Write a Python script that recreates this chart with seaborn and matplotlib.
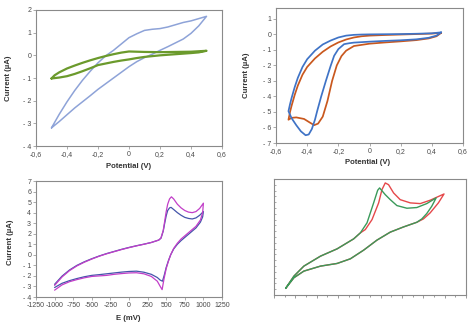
import matplotlib
matplotlib.use("Agg")
import matplotlib.pyplot as plt
import seaborn as sns
import pandas as pd
from matplotlib.ticker import MultipleLocator

sns.set_style("white")
plt.rcParams["font.family"] = ["Liberation Sans", "DejaVu Sans"]

# ---- Panel A: CV of two electrodes (Potential V, Current uA) ----
a_blue_x = [-0.50, -0.45, -0.40, -0.35, -0.30, -0.25, -0.20, -0.15, -0.10, -0.05, 0.00,
            0.05, 0.10, 0.15, 0.20, 0.25, 0.30, 0.35, 0.40, 0.45, 0.50,
            0.45, 0.40, 0.35, 0.30, 0.25, 0.20, 0.15, 0.10, 0.05, 0.00,
            -0.05, -0.10, -0.15, -0.20, -0.25, -0.30, -0.35, -0.40, -0.45, -0.50]
a_blue_y = [-3.20, -2.60, -2.05, -1.55, -1.10, -0.70, -0.33, -0.02, 0.22, 0.50, 0.78,
            0.95, 1.10, 1.15, 1.18, 1.25, 1.35, 1.45, 1.52, 1.62, 1.72,
            1.30, 0.97, 0.72, 0.55, 0.38, 0.22, 0.05, -0.10, -0.28, -0.50,
            -0.75, -1.00, -1.25, -1.50, -1.78, -2.05, -2.32, -2.62, -2.92, -3.20]
a_green_x = [-0.50, -0.48, -0.45, -0.40, -0.35, -0.30, -0.25, -0.20, -0.15, -0.10, -0.05,
             0.00, 0.05, 0.10, 0.20, 0.30, 0.40, 0.50,
             0.45, 0.40, 0.30, 0.20, 0.10, 0.05, 0.00, -0.05, -0.10, -0.15,
             -0.20, -0.25, -0.30, -0.35, -0.40, -0.45, -0.50]
a_green_y = [-1.02, -0.88, -0.75, -0.58, -0.45, -0.33, -0.22, -0.12, -0.03, 0.05, 0.12,
             0.17, 0.16, 0.15, 0.14, 0.15, 0.16, 0.20,
             0.13, 0.10, 0.05, 0.00, -0.07, -0.12, -0.18, -0.23, -0.29, -0.36,
             -0.43, -0.57, -0.70, -0.82, -0.92, -0.98, -1.02]

# ---- Panel B: CV with cathodic peak ----
b_blue_x = [0.46, 0.40, 0.30, 0.20, 0.10, 0.00, -0.05, -0.10, -0.15, -0.20, -0.25, -0.30,
            -0.35, -0.40, -0.43, -0.46, -0.48, -0.50, -0.51, -0.52,
            -0.50, -0.47, -0.44, -0.41, -0.39, -0.37, -0.35, -0.336, -0.31, -0.28,
            -0.25, -0.227, -0.20, -0.163, -0.13, -0.10, 0.00, 0.10, 0.20, 0.30,
            0.38, 0.43, 0.46]
b_blue_y = [0.13, 0.07, 0.04, 0.02, 0.01, 0.00, -0.01, -0.03, -0.08, -0.20, -0.40, -0.65,
            -1.05, -1.60, -2.10, -2.80, -3.40, -4.10, -4.50, -4.95,
            -5.40, -5.85, -6.25, -6.50, -6.45, -6.10, -5.50, -4.95, -4.00, -3.00,
            -2.05, -1.38, -0.95, -0.63, -0.57, -0.53, -0.47, -0.42, -0.38, -0.32,
            -0.22, -0.08, 0.13]
b_orange_x = [0.46, 0.40, 0.30, 0.20, 0.10, 0.00, -0.05, -0.10, -0.15, -0.20, -0.25, -0.30,
              -0.35, -0.40, -0.43, -0.46, -0.48, -0.50, -0.51, -0.52,
              -0.50, -0.47, -0.42, -0.38, -0.355, -0.33, -0.30, -0.27, -0.24, -0.21,
              -0.18, -0.15, -0.10, 0.00, 0.10, 0.20, 0.30, 0.38, 0.43, 0.46]
b_orange_y = [0.10, 0.05, 0.02, -0.01, -0.04, -0.08, -0.12, -0.20, -0.33, -0.52, -0.78, -1.12,
              -1.55, -2.10, -2.60, -3.30, -3.90, -4.60, -5.00, -5.50,
              -5.38, -5.35, -5.45, -5.70, -5.85, -5.75, -5.30, -4.30, -3.00, -2.00,
              -1.40, -1.05, -0.75, -0.60, -0.52, -0.45, -0.37, -0.26, -0.12, 0.10]

# ---- Panel C: CV in mV ----
c_mag_x = [-1000, -900, -800, -700, -600, -500, -400, -300, -200, -100, 0, 100, 200, 300,
           400, 430, 460, 480, 500, 520, 545, 570, 600, 650, 700, 750, 800, 850, 900, 950,
           1000, 990, 960, 900, 800, 700, 650, 600, 560, 530, 500, 470, 445, 420, 380, 300,
           200, 100, 0, -100, -200, -300, -400, -500, -600, -700, -800, -900, -1000]
c_mag_y = [-2.90, -2.10, -1.50, -1.05, -0.70, -0.40, -0.13, 0.10, 0.30, 0.50, 0.68, 0.85,
           1.00, 1.17, 1.40, 1.60, 2.30, 3.20, 4.10, 4.80, 5.30, 5.50, 5.30, 4.80, 4.45,
           4.20, 4.05, 4.00, 4.10, 4.40, 4.90, 4.00, 3.30, 2.70, 2.10, 1.50, 1.10, 0.60,
           0.00, -0.60, -1.30, -2.30, -3.30, -3.00, -2.50, -2.05, -1.80, -1.70, -1.72,
           -1.78, -1.85, -1.95, -2.00, -2.05, -2.18, -2.35, -2.55, -2.85, -3.35]
c_blue_x = [-1000, -900, -800, -700, -600, -500, -400, -300, -200, -100, 0, 100, 200, 300,
            400, 430, 460, 480, 500, 520, 545, 565, 600, 650, 700, 750, 800, 850, 900, 950,
            1000, 990, 960, 900, 800, 700, 650, 600, 560, 530, 500, 475, 450, 420, 380, 300,
            200, 100, 0, -100, -200, -300, -400, -500, -600, -700, -800, -900, -1000]
c_blue_y = [-2.80, -2.02, -1.44, -1.00, -0.66, -0.37, -0.11, 0.12, 0.32, 0.52, 0.70, 0.86,
            1.01, 1.17, 1.40, 1.58, 2.25, 3.00, 3.70, 4.20, 4.45, 4.50, 4.30, 4.00, 3.75,
            3.55, 3.45, 3.40, 3.50, 3.75, 4.10, 3.60, 3.10, 2.55, 1.95, 1.35, 1.00, 0.55,
            0.00, -0.55, -1.20, -1.90, -2.50, -2.40, -2.15, -1.85, -1.65, -1.55, -1.58,
            -1.64, -1.72, -1.80, -1.88, -1.95, -2.08, -2.25, -2.45, -2.70, -3.10]

# ---- Panel D: unlabelled CV pair ----
d_red_x = [1.09, 1.87, 2.80, 4.36, 5.92, 7.47, 8.10, 8.56, 9.19, 9.81, 10.12, 10.43, 10.74,
           11.21, 11.83, 12.78, 13.71, 14.64, 15.94, 15.41, 14.64, 14.01, 13.39, 12.15,
           10.90, 9.65, 8.41, 7.16, 5.92, 4.36, 2.80, 1.87, 1.09]
d_red_y = [0.57, 1.63, 2.49, 3.35, 3.98, 4.84, 5.36, 5.64, 6.50, 7.94, 9.08, 9.66, 9.51,
           8.80, 8.22, 7.94, 7.88, 8.17, 8.71, 7.94, 7.08, 6.56, 6.27, 5.87,
           5.42, 4.73, 3.87, 3.12, 2.72, 2.49, 2.06, 1.49, 0.57]
d_green_x = [1.09, 1.87, 2.80, 4.36, 5.92, 7.47, 8.10, 8.72, 9.34, 9.72, 9.90, 10.43, 10.90,
             11.52, 12.46, 13.39, 14.32, 15.20, 14.79, 14.32, 13.86, 13.39, 12.15,
             10.90, 9.65, 8.41, 7.16, 5.92, 4.36, 2.80, 1.87, 1.09]
d_green_y = [0.57, 1.63, 2.49, 3.35, 3.98, 4.84, 5.36, 6.22, 7.94, 9.03, 9.23, 8.65, 8.22,
             7.71, 7.48, 7.54, 7.88, 8.37, 7.65, 7.02, 6.56, 6.27, 5.87,
             5.42, 4.73, 3.87, 3.12, 2.72, 2.49, 2.06, 1.49, 0.57]

volt_ticks = [-0.6, -0.4, -0.2, 0, 0.2, 0.4, 0.6]
volt_labels = ["-0,6", "-0,4", "-0,2", "0", "0,2", "0,4", "0,6"]
a_yticks = [2, 1, 0, -1, -2, -3, -4]
a_ylabels = ["2", "1", "0", "- 1", "- 2", "- 3", "- 4"]
b_yticks = [1, 0, -1, -2, -3, -4, -5, -6, -7]
b_ylabels = ["1", "0", "- 1", "- 2", "- 3", "- 4", "- 5", "- 6", "- 7"]
c_xticks = [-1250, -1000, -750, -500, -250, 0, 250, 500, 750, 1000, 1250]
c_xlabels = ["-1250", "-1000", "-750", "-500", "-250", "0", "250", "500", "750", "1000", "1250"]
c_yticks = [7, 6, 5, 4, 3, 2, 1, 0, -1, -2, -3, -4]
c_ylabels = ["7", "6", "5", "4", "3", "2", "1", "0", "- 1", "- 2", "- 3", "- 4"]

W, H = 474, 326
fig = plt.figure(figsize=(W / 100, H / 100), dpi=100)


def box(left, top, right, bottom):
    return fig.add_axes([left / W, 1 - bottom / H, (right - left) / W, (bottom - top) / H])


ax1 = box(36, 10, 222, 146)
ax2 = box(276, 8, 463, 143)
ax3 = box(36, 181, 222, 297)
ax4 = box(274, 179, 466, 295)

spine_col = "#8a8a8a"
tick_col = "#4a4a4a"
lab_col = "#333333"
tfs = 5.0
lfs = 5.6


def line(ax, xs, ys, color, lw):
    df = pd.DataFrame({"x": xs, "y": ys})
    sns.lineplot(data=df, x="x", y="y", sort=False, estimator=None, color=color,
                 linewidth=lw, ax=ax)


line(ax1, a_blue_x, a_blue_y, "#8ea3d8", 1.1)
line(ax1, a_green_x, a_green_y, "#6b9a2c", 1.6)
line(ax2, b_orange_x, b_orange_y, "#c9581e", 1.25)
line(ax2, b_blue_x, b_blue_y, "#3f73c6", 1.25)
line(ax3, c_blue_x, c_blue_y, "#4455aa", 0.9)
line(ax3, c_mag_x, c_mag_y, "#c23ec8", 0.9)
line(ax4, d_red_x, d_red_y, "#e5484a", 1.0)
line(ax4, d_green_x, d_green_y, "#3a9a5a", 1.0)

ax1.set_xlim(-0.6, 0.6)
ax1.set_ylim(-4, 2)
ax2.set_xlim(-0.6, 0.6)
ax2.set_ylim(-7, 1.7)
ax3.set_xlim(-1250, 1250)
ax3.set_ylim(-4, 7)
ax4.set_xlim(0, 18)
ax4.set_ylim(0, 10)

for ax, xt, xl, yt, yl in [(ax1, volt_ticks, volt_labels, a_yticks, a_ylabels),
                            (ax2, volt_ticks, volt_labels, b_yticks, b_ylabels),
                            (ax3, c_xticks, c_xlabels, c_yticks, c_ylabels)]:
    ax.set_xticks(xt)
    ax.set_xticklabels(xl)
    ax.set_yticks(yt)
    ax.set_yticklabels(yl)
    ax.tick_params(axis="both", labelsize=tfs, labelcolor=tick_col, length=2,
                   width=0.5, color=spine_col, pad=1.5, direction="out",
                   bottom=True, left=True)

for ax in (ax1, ax2, ax3, ax4):
    for s in ax.spines.values():
        s.set_color(spine_col)
        s.set_linewidth(0.8)
    ax.grid(False)

ax1.set_xlabel("Potential (V)", fontsize=lfs, fontweight="bold", color=lab_col)
ax1.set_ylabel("Current (\u00b5A)", fontsize=lfs, fontweight="bold", color=lab_col)
ax2.set_xlabel("Potential (V)", fontsize=lfs, fontweight="bold", color=lab_col)
ax2.set_ylabel("Current (\u00b5A)", fontsize=lfs, fontweight="bold", color=lab_col)
ax3.set_xlabel("E (mV)", fontsize=lfs, fontweight="bold", color=lab_col)
ax3.set_ylabel("Current (\u00b5A)", fontsize=lfs, fontweight="bold", color=lab_col)

for ax in (ax1, ax2, ax3):
    ax.xaxis.label.set_va("center")
    ax.yaxis.label.set_va("center")
ax1.xaxis.set_label_coords(0.495, -20 / 136)
ax1.yaxis.set_label_coords(-27 / 186, 0.5)
ax2.xaxis.set_label_coords(0.49, -20 / 135)
ax2.yaxis.set_label_coords(-30 / 187, 0.5)
ax3.xaxis.set_label_coords(0.495, -21 / 116)
ax3.yaxis.set_label_coords(-26 / 186, 0.47)

# Panel D: bare axes with tick marks only
ax4.xaxis.set_major_locator(MultipleLocator(2))
ax4.xaxis.set_minor_locator(MultipleLocator(1))
ax4.yaxis.set_major_locator(MultipleLocator(1))
ax4.yaxis.set_minor_locator(MultipleLocator(0.5))
ax4.tick_params(axis="x", which="both", direction="out", bottom=True, labelbottom=False,
                color=spine_col, width=0.6)
ax4.tick_params(axis="x", which="major", length=2.5)
ax4.tick_params(axis="x", which="minor", length=1.5)
ax4.tick_params(axis="y", which="both", direction="in", left=True, labelleft=False,
                color=spine_col, width=0.5, length=1.5)
ax4.set_xlabel("")
ax4.set_ylabel("")

fig.savefig("out.png", dpi=100)
